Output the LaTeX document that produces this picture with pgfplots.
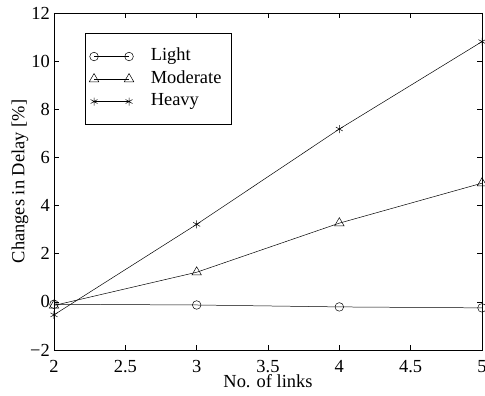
\documentclass[border=0pt]{standalone}
\usepackage{pgfplots}
\pgfplotsset{compat=1.18}
\usetikzlibrary{calc}
\usepackage{fontspec}
\setmainfont{Liberation Serif}
\begin{document}
\begin{tikzpicture}
\begin{axis}[
  scale only axis,
  width=428bp, height=337bp,
  xmin=2, xmax=5, ymin=-2, ymax=12,
  xtick={2,2.5,3,3.5,4,4.5,5},
  xticklabels={2,2.5,3,3.5,4,4.5,5},
  ytick={-2,0,2,4,6,8,10,12},
  yticklabels={−2,0,2,4,6,8,10,12},
  tick align=inside,
  tick pos=both,
  major tick length=5bp,
  every tick/.style={black, line width=0.5pt},
  axis line style={line width=0.6pt},
  tick label style={font=\fontsize{18.5}{20}\selectfont},
  label style={font=\fontsize{18.5}{20}\selectfont},
  xlabel={No. of links},
  ylabel={Changes in Delay [\%]},
  xlabel style={at={(axis description cs:0.5,0)}, anchor=base, yshift=-37bp, inner sep=0pt},
  ylabel style={at={(axis description cs:-0.0794,0.5)}, anchor=center},
  xticklabel style={anchor=base, yshift=-22bp, inner sep=0pt},
  yticklabel style={anchor=east, inner sep=2bp, xshift=-2bp},
  legend style={at={(0.0724,0.9407)}, anchor=north west, font=\fontsize{18.5}{20}\selectfont,
    draw=black, line width=0.6pt, inner xsep=4bp, inner ysep=15bp, row sep=6bp,
    nodes={inner ysep=0pt, inner xsep=6bp, text height=12.5bp, text depth=4bp},
    /tikz/every odd column/.append style={column sep=11bp}},
  legend cell align=left,
  legend image code/.code={\draw[mark repeat=2,mark phase=1,#1] plot coordinates {(0bp,0bp)(17.5bp,0bp)(35bp,0bp)};},
  every axis plot/.append style={black, line width=0.5pt, mark size=4.3bp, mark options={solid, fill=none, line width=0.5pt}},
]
\addplot[mark=o] coordinates {(2,-0.1) (3,-0.13) (4,-0.21) (5,-0.25)};
\addlegendentry{Light}
\addplot[mark=triangle, mark size=5.5bp] coordinates {(2,-0.15) (3,1.23) (4,3.27) (5,4.93)};
\addlegendentry{Moderate\hspace{19bp}}
\addplot[mark=asterisk, mark size=4bp] coordinates {(2,-0.54) (3,3.22) (4,7.18) (5,10.81)};
\addlegendentry{Heavy}
\end{axis}
\pgfresetboundingbox
\useasboundingbox ($(current axis.south west)+(-54bp,-46bp)$) rectangle ($(current axis.north east)+(3bp,13bp)$);
\end{tikzpicture}
\end{document}
